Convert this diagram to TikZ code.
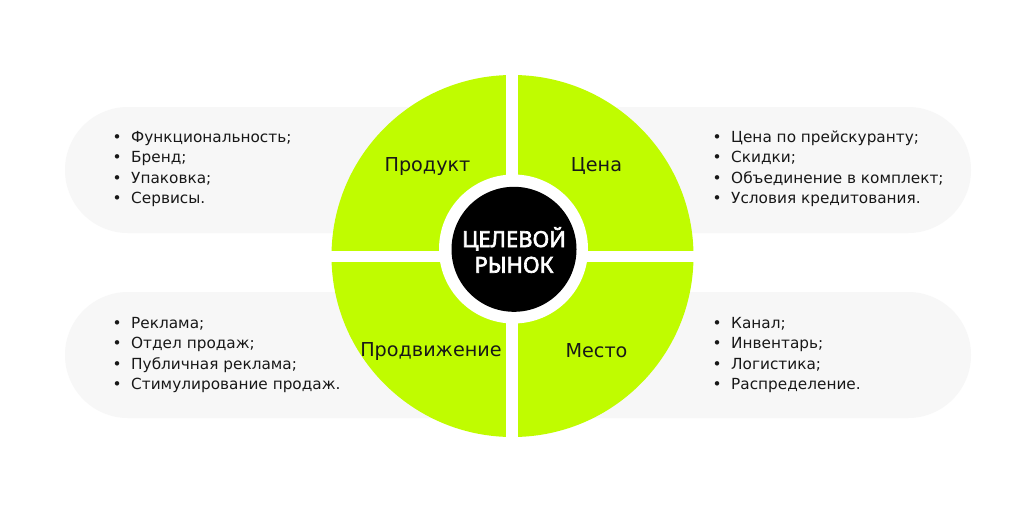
\documentclass[tikz,border=0pt]{standalone}
\usepackage{fontspec}
\setmainfont{DejaVu Sans}
\newfontfamily\centerfont[FakeBold=3]{Noto Sans}
\definecolor{lime}{RGB}{192,252,0}
\definecolor{pillgray}{RGB}{247,247,247}
\definecolor{ink}{RGB}{24,24,24}
\newcommand\bulletbox{\makebox[28pt][c]{•}}
\begin{document}
\begin{tikzpicture}[x=1pt,y=-1pt,
  pill/.style={fill=pillgray, rounded corners=63},
  listline/.style={anchor=base west, text=ink, inner sep=0pt,
    font=\fontsize{15.3}{18}\selectfont},
  quadlabel/.style={anchor=base, text=ink, inner sep=0pt,
    font=\fontsize{19.2}{22}\selectfont},
  centerlabel/.style={anchor=base, text=white, inner sep=0pt,
    font=\fontsize{22}{26}\selectfont\centerfont},
]
\useasboundingbox (0,0) rectangle (1024,512);
\fill[white] (0,0) rectangle (1024,512);
% pills
\fill[pill] (65,107) rectangle (560,233);
\fill[pill] (465,107) rectangle (971,233);
\fill[pill] (65,292) rectangle (560,418);
\fill[pill] (465,292) rectangle (971,418);
% big circle and gaps
\fill[lime] (512.5,256) circle[radius=181];
\begin{scope}
  \clip (512.5,256) circle[radius=182];
  \fill[white] (506,60) rectangle (518,450);
  \fill[white] (320,250.5) rectangle (710,261.5);
\end{scope}
\fill[white] (513.5,249) circle[radius=74.5];
\fill[black] (514,249.3) circle[radius=62.5];
% center text
\node[centerlabel] (c1) at (514,247) {ЦЕЛЕВОЙ};
\node[centerlabel] (c2) at (514,272.7) {РЫНОК};
% quadrant labels
\node[quadlabel] (q1) at (427.5,171) {Продукт};
\node[quadlabel] (q2) at (596.5,171) {Цена};
\node[quadlabel] (q3) at (431,356) {Продвижение};
\node[quadlabel] (q4) at (596.5,357) {Место};
% lists
\foreach \t [count=\i from 0] in {Функциональность;,Бренд;,Упаковка;,Сервисы.}
  \node[listline] (tl\i) at (103,142.5+20.3*\i) {\bulletbox\t};
\foreach \t [count=\i from 0] in {Цена по прейскуранту;,Скидки;,Объединение в комплект;,Условия кредитования.}
  \node[listline] (tr\i) at (703,142.5+20.3*\i) {\bulletbox\t};
\foreach \t [count=\i from 0] in {Реклама;,Отдел продаж;,Публичная реклама;,Стимулирование продаж.}
  \node[listline] (bl\i) at (103,328.5+20.3*\i) {\bulletbox\t};
\foreach \t [count=\i from 0] in {Канал;,Инвентарь;,Логистика;,Распределение.}
  \node[listline] (br\i) at (703,328.5+20.3*\i) {\bulletbox\t};
\end{tikzpicture}
\end{document}
